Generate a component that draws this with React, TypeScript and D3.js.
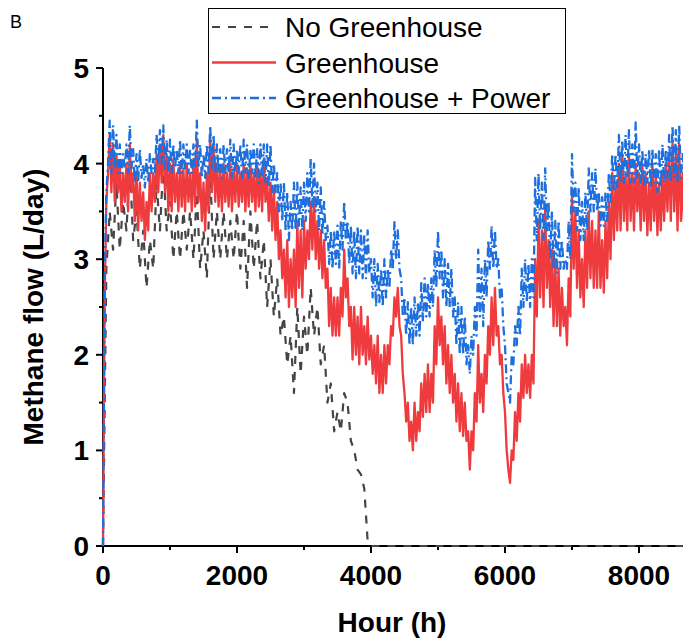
import React from "react";
import * as d3 from "d3";

// Methane flow (L/day) over one year of operation.
// "No Greenhouse" sampled every 50 h, the other two every 25 h.
const STEP_NO_GREENHOUSE = 50;
const STEP_GREENHOUSE = 25;
const YEAR_END = 8760;

const noGreenhouse = [
  0, 2.9, 3.5, 3.1, 3.8, 3.1, 3.6, 3.3, 4.0, 3.2, 3.5, 2.9, 3.3, 2.7, 3.2, 2.9, 3.8, 3.3, 4.0, 3.3,
  3.6, 3.0, 3.5, 3.0, 3.5, 3.1, 3.5, 3.0, 3.7, 2.9, 3.3, 2.8, 3.9, 3.0, 3.5, 3.0, 3.5, 3.0, 3.4, 3.0,
  3.5, 2.9, 3.4, 2.7, 3.5, 2.9, 3.4, 2.8, 3.2, 2.5, 3.0, 2.4, 2.8, 2.2, 2.4, 1.9, 2.2, 1.6, 2.5, 1.8,
  2.4, 2.0, 2.7, 2.2, 2.5, 1.9, 2.1, 1.5, 1.7, 1.2, 1.4, 1.2, 1.6, 1.5, 1.1, 1.0, 0.8, 0.75, 0.6, 0.05,
  0,
];

const greenhouse = [
  // 0 – 975 h
  0, 2.6, 3.6, 3.9, 4.3, 3.7, 4.2, 3.6, 4.1, 3.7, 4.0, 3.5, 3.9, 3.6, 4.0, 3.5,
  4.2, 3.7, 3.9, 3.4, 3.9, 3.3, 3.8, 3.4, 3.7, 3.2, 3.6, 3.3, 3.9, 3.5, 3.9, 3.6, 4.1, 3.7, 4.2, 3.8, 4.3, 3.7, 4.1, 3.5,
  // 1000 – 1975 h
  4.0, 3.5, 4.05, 3.6, 3.9, 3.5, 4.0, 3.55, 3.95, 3.5,
  4.0, 3.6, 3.9, 3.5, 4.05, 3.55, 4.25, 3.6, 3.9, 3.4,
  3.8, 3.3, 3.9, 3.5, 4.3, 3.7, 4.2, 3.6, 4.0, 3.55,
  3.95, 3.5, 4.0, 3.6, 3.9, 3.55, 4.0, 3.5, 3.95, 3.6,
  // 2000 – 2975 h
  4.0, 3.55, 3.9, 3.6, 4.0, 3.5, 3.95, 3.55, 4.0, 3.6,
  3.9, 3.5, 4.0, 3.55, 3.9, 3.5, 4.05, 3.6, 3.85, 3.4,
  3.8, 3.3, 3.75, 3.2, 3.6, 3.0, 3.3, 2.8, 3.1, 2.6,
  3.2, 2.5, 3.0, 2.6, 3.1, 2.5, 3.4, 2.7, 3.3, 2.6,
  // 3000 – 3975 h
  3.4, 2.9, 3.3, 3.0, 3.6, 3.1, 3.65, 3.0, 3.4, 2.9,
  3.3, 2.8, 3.2, 2.7, 2.9, 2.3, 2.7, 2.2, 2.6, 2.2,
  2.6, 2.2, 2.7, 2.4, 3.1, 2.6, 2.8, 2.3, 2.5, 1.95,
  2.5, 2.0, 2.4, 1.9, 2.5, 2.0, 2.3, 1.9, 2.4, 1.95,
  // 4000 – 4975 h
  2.2, 1.8, 2.1, 1.7, 2.2, 1.6, 2.0, 1.6, 2.1, 1.7,
  2.1, 1.9, 2.3, 2.2, 2.6, 2.4, 2.7, 2.3, 2.2, 1.8,
  1.6, 1.3, 1.5, 1.1, 1.3, 1.0, 1.5, 1.1, 1.4, 1.2,
  1.7, 1.35, 1.8, 1.4, 1.9, 1.4, 1.8, 1.5, 2.3, 1.9,
  // 5000 – 5975 h
  2.6, 2.1, 2.4, 1.9, 2.3, 1.7, 2.1, 1.6, 2.0, 1.5,
  1.8, 1.3, 1.7, 1.2, 1.6, 1.15, 1.5, 1.1, 1.2, 0.8,
  1.2, 1.0, 1.6, 1.3, 2.1, 1.5, 1.8, 1.4, 2.0, 1.7,
  2.3, 2.0, 2.6, 2.1, 2.7, 2.2, 2.3, 1.9, 2.0, 1.6,
  // 6000 – 6975 h
  1.4, 1.0, 0.8, 0.66, 1.0, 0.9, 1.4, 1.1, 1.6, 1.3,
  1.9, 1.55, 2.0, 1.6, 1.9, 1.55, 2.0, 1.7, 3.0, 2.4,
  3.4, 2.6, 3.3, 2.5, 3.55, 2.7, 3.2, 2.5, 3.1, 2.3,
  3.0, 2.3, 2.9, 2.2, 2.7, 2.3, 2.5, 2.1, 2.8, 2.4,
  // 7000 – 7975 h
  3.7, 2.9, 3.5, 2.7, 3.3, 2.6, 3.0, 2.5, 3.3, 2.7,
  3.5, 2.8, 3.4, 2.7, 3.3, 2.7, 3.5, 2.7, 3.2, 2.65,
  3.4, 2.8, 3.6, 3.0, 3.9, 3.2, 3.8, 3.3, 4.0, 3.3,
  4.1, 3.4, 3.9, 3.3, 4.1, 3.4, 3.9, 3.3, 4.0, 3.5,
  // 8000 – 8750 h
  3.9, 3.3, 4.0, 3.4, 3.9, 3.25, 3.8, 3.3, 4.0, 3.4,
  3.9, 3.25, 3.8, 3.3, 3.9, 3.4, 4.0, 3.5, 4.1, 3.4,
  4.25, 3.5, 4.1, 3.3, 4.2, 3.4, 3.9, 3.3, 4.0, 3.4,
  3.6,
];

const greenhousePower = [
  // 0 – 975 h
  0, 2.8, 3.7, 4.0, 4.45, 3.9, 4.4, 3.95, 4.3, 3.9, 4.2, 3.9, 4.1, 3.95, 4.2, 3.9,
  4.4, 3.95, 4.15, 3.8, 4.1, 3.8, 4.15, 3.85, 4.0, 3.75, 4.05, 3.8, 4.1, 3.9, 4.05, 3.9, 4.3, 4.0, 4.35, 4.0, 4.4, 3.95, 4.25, 3.9,
  // 1000 – 1975 h
  4.25, 3.9, 4.2, 3.95, 4.15, 3.9, 4.25, 3.9, 4.2, 3.95,
  4.2, 3.9, 4.15, 3.9, 4.2, 3.95, 4.45, 3.95, 4.2, 3.85,
  4.1, 3.85, 4.2, 3.9, 4.4, 3.95, 4.3, 3.9, 4.2, 3.9,
  4.15, 3.85, 4.2, 3.9, 4.15, 3.9, 4.25, 3.85, 4.2, 3.9,
  // 2000 – 2975 h
  4.15, 3.9, 4.2, 3.85, 4.25, 3.9, 4.2, 3.85, 4.15, 3.9,
  4.2, 3.85, 4.15, 3.8, 4.2, 3.85, 4.2, 3.8, 4.2, 3.75,
  4.2, 3.7, 4.0, 3.7, 3.9, 3.5, 3.8, 3.4, 3.8, 3.3,
  3.7, 3.2, 3.6, 3.3, 3.8, 3.3, 3.8, 3.35, 3.75, 3.3,
  // 3000 – 3975 h
  3.8, 3.4, 3.9, 3.5, 4.05, 3.55, 4.0, 3.5, 3.8, 3.3,
  3.75, 3.25, 3.6, 3.2, 3.35, 2.95, 3.3, 2.9, 3.3, 2.95,
  3.35, 2.9, 3.4, 3.1, 3.6, 3.2, 3.4, 2.95, 3.35, 2.85,
  3.3, 2.8, 3.35, 2.85, 3.3, 2.8, 3.25, 2.8, 3.3, 2.85,
  // 4000 – 4975 h
  3.0, 2.6, 3.0, 2.5, 2.95, 2.55, 2.9, 2.5, 3.0, 2.6,
  2.9, 2.7, 3.1, 2.9, 3.4, 3.0, 3.3, 2.9, 2.8, 2.4,
  2.6, 2.2, 2.55, 2.1, 2.5, 2.1, 2.6, 2.2, 2.55, 2.2,
  2.75, 2.35, 2.8, 2.4, 2.75, 2.4, 2.8, 2.5, 3.1, 2.7,
  // 5000 – 5975 h
  3.3, 2.8, 3.1, 2.6, 3.0, 2.5, 2.95, 2.5, 2.9, 2.4,
  2.6, 2.1, 2.55, 2.0, 2.5, 2.0, 2.4, 1.9, 2.1, 1.8,
  2.2, 2.0, 2.5, 2.2, 3.1, 2.4, 2.9, 2.3, 3.0, 2.6,
  3.2, 2.9, 3.35, 2.9, 3.3, 2.9, 3.0, 2.6, 2.7, 2.3,
  // 6000 – 6975 h
  2.1, 1.7, 1.6, 1.5, 2.0, 1.9, 2.3, 2.1, 2.5, 2.2,
  2.9, 2.5, 3.0, 2.55, 2.95, 2.5, 3.0, 2.6, 3.85, 3.2,
  3.9, 3.3, 3.8, 3.2, 3.95, 3.3, 3.6, 3.0, 3.5, 2.9,
  3.4, 2.85, 3.4, 2.9, 3.2, 2.9, 3.0, 2.9, 3.4, 3.0,
  // 7000 – 7975 h
  4.1, 3.5, 3.8, 3.3, 3.75, 3.2, 3.6, 3.2, 3.7, 3.3,
  3.95, 3.5, 3.9, 3.5, 3.95, 3.5, 3.7, 3.35, 3.65, 3.35,
  3.7, 3.4, 3.9, 3.6, 4.1, 3.7, 4.1, 3.75, 4.3, 3.8,
  4.25, 3.8, 4.3, 3.85, 4.35, 3.8, 4.2, 3.8, 4.43, 3.85,
  // 8000 – 8750 h
  4.2, 3.8, 4.15, 3.75, 4.1, 3.8, 4.15, 3.75, 4.15, 3.8,
  4.1, 3.7, 4.15, 3.75, 4.2, 3.8, 4.15, 3.85, 4.3, 3.8,
  4.4, 3.85, 4.35, 3.8, 4.4, 3.85, 4.1, 3.9, 4.0, 3.8,
  3.9,
];

const xTicks = [0, 2000, 4000, 6000, 8000];
const xMinorTicks = [1000, 3000, 5000, 7000];
const yTicks = [0, 1, 2, 3, 4, 5];
const yMinorTicks = [0.5, 1.5, 2.5, 3.5, 4.5];

const legendLabels = ["No Greenhouse", "Greenhouse", "Greenhouse + Power"];

type Pt = [number, number];

const toPoints = (vals: number[], step: number): Pt[] => vals.map((v, i) => [i * step, v]);

const FONT = "'Liberation Sans', Arial, sans-serif";

export default function App() {
  const W = 683;
  const H = 641;
  const left = 103;
  const top = 68;
  const bottom = 546;

  const x = d3.scaleLinear().domain([0, YEAR_END]).range([left, left + (YEAR_END * 134) / 2000]);
  const y = d3.scaleLinear().domain([0, 5]).range([bottom, top]);

  const line = d3
    .line<Pt>()
    .x((d) => x(d[0]))
    .y((d) => y(d[1]));

  // after the digester fails the flow stays at zero until the end of the year
  const blackPts = [...toPoints(noGreenhouse, STEP_NO_GREENHOUSE), [YEAR_END, 0] as Pt];
  const redPts = toPoints(greenhouse, STEP_GREENHOUSE);
  const bluePts = toPoints(greenhousePower, STEP_GREENHOUSE);

  const series = [
    { pts: blackPts, color: "#454545", width: 2.2, dash: "8,8" },
    { pts: redPts, color: "#ef3b3d", width: 2.3, dash: undefined },
    { pts: bluePts, color: "#1e6fde", width: 2.3, dash: "9,4,2,4" },
  ];

  const xEnd = W + 10;

  return (
    <svg
      width={W}
      height={H}
      style={{ position: "absolute", left: 0, top: 0, background: "#fff" }}
      fontFamily={FONT}
    >
      <rect x={0} y={0} width={W} height={H} fill="#fff" />
      <text x={10} y={28} fontSize={18}>
        B
      </text>

      {/* x axis */}
      <line x1={left} x2={xEnd} y1={bottom} y2={bottom} stroke="#000" strokeWidth={2} />
      {xTicks.map((t) => (
        <g key={t}>
          <line x1={x(t)} x2={x(t)} y1={bottom} y2={bottom + 7} stroke="#000" strokeWidth={2} />
          <text x={x(t)} y={585} textAnchor="middle" fontSize={28} fontWeight="bold">
            {t}
          </text>
        </g>
      ))}
      {xMinorTicks.map((t) => (
        <line key={t} x1={x(t)} x2={x(t)} y1={bottom} y2={bottom + 4} stroke="#000" strokeWidth={2} />
      ))}
      <text x={392} y={632} textAnchor="middle" fontSize={28} fontWeight="bold">
        Hour (h)
      </text>

      {/* y axis */}
      <line x1={left} x2={left} y1={top} y2={bottom + 1} stroke="#000" strokeWidth={2} />
      {yTicks.map((t) => (
        <g key={t}>
          <line x1={left - 7} x2={left} y1={y(t)} y2={y(t)} stroke="#000" strokeWidth={2} />
          <text x={89} y={y(t) + 10} textAnchor="end" fontSize={28} fontWeight="bold">
            {t}
          </text>
        </g>
      ))}
      {yMinorTicks.map((t) => (
        <line key={t} x1={left - 4} x2={left} y1={y(t)} y2={y(t)} stroke="#000" strokeWidth={2} />
      ))}
      <text
        transform={`translate(43, ${(top + bottom) / 2}) rotate(-90)`}
        textAnchor="middle"
        fontSize={28}
        fontWeight="bold"
      >
        Methane flow (L/day)
      </text>

      {/* data, drawn over the axes */}
      {series.map((s, i) => (
        <path
          key={i}
          d={line(s.pts) || ""}
          fill="none"
          stroke={s.color}
          strokeWidth={s.width}
          strokeDasharray={s.dash}
          strokeLinejoin="round"
        />
      ))}

      {/* legend */}
      <rect x={208.5} y={8.5} width={357} height={105} fill="#fff" stroke="#000" strokeWidth={1} />
      {legendLabels.map((lab, i) => {
        const s = series[i];
        const cy = 27 + i * 35.5;
        return (
          <g key={lab}>
            <line
              x1={212}
              x2={276}
              y1={cy}
              y2={cy}
              stroke={s.color}
              strokeWidth={s.width}
              strokeDasharray={s.dash}
            />
            <text x={285} y={cy + 10} fontSize={28}>
              {lab}
            </text>
          </g>
        );
      })}
    </svg>
  );
}
